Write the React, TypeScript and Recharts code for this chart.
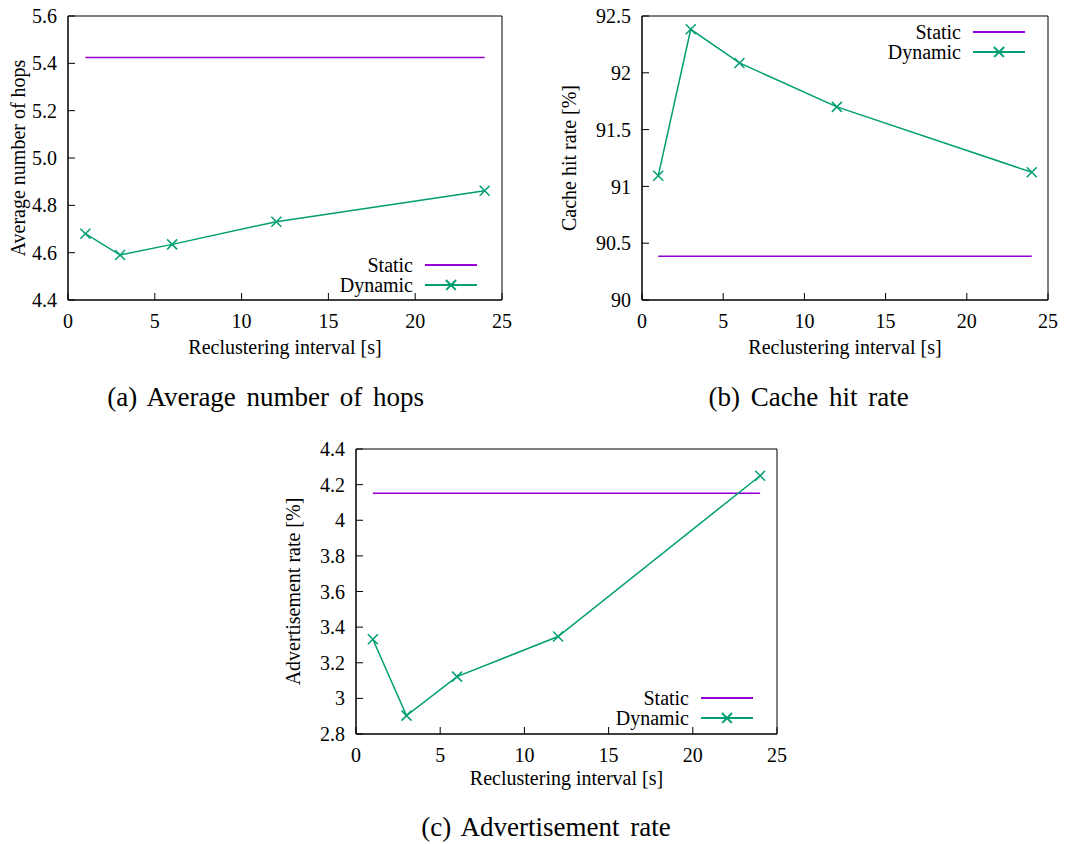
import React from 'react';
import { LineChart, Line, XAxis, YAxis, Legend, ReferenceArea } from 'recharts';

// reclustering intervals [s]
const intervals = [1, 3, 6, 12, 24];
const xTicks = [0, 5, 10, 15, 20, 25];

// (a) average number of hops
const hopsDynamic = [4.68, 4.59, 4.635, 4.731, 4.862];
const hopsStatic = 5.425;
const hopsTicks = [4.4, 4.6, 4.8, 5.0, 5.2, 5.4, 5.6];

// (b) cache hit rate [%]
const hitDynamic = [91.093, 92.383, 92.087, 91.7, 91.125];
const hitStatic = 90.385;
const hitTicks = [90, 90.5, 91, 91.5, 92, 92.5];

// (c) advertisement rate [%]
const advDynamic = [3.332, 2.903, 3.122, 3.347, 4.25];
const advStatic = 4.151;
const advTicks = [2.8, 3, 3.2, 3.4, 3.6, 3.8, 4, 4.2, 4.4];

const STATIC_COLOR = '#9400d3';
const DYNAMIC_COLOR = '#009e73';
const FONT = '"Liberation Serif", "Times New Roman", serif';

const buildRows = (dynamic: number[], staticValue: number) =>
  intervals.map((x, i) => ({ x, dynamic: dynamic[i], static: staticValue }));

const hopsRows = buildRows(hopsDynamic, hopsStatic);
const hitRows = buildRows(hitDynamic, hitStatic);
const advRows = buildRows(advDynamic, advStatic);

const oneDecimal = (v: number) => v.toFixed(1);

const Cross = (props: any) => {
  const { cx, cy, index } = props;
  if (cx == null || cy == null) return null;
  const s = 5;
  return (
    <path
      key={`cross-${index}`}
      d={`M${cx - s},${cy - s}L${cx + s},${cy + s}M${cx - s},${cy + s}L${cx + s},${cy - s}`}
      stroke={DYNAMIC_COLOR}
      strokeWidth={1.5}
      fill="none"
    />
  );
};

// gnuplot style key, plain html (no nested svg inside the chart wrapper)
const bar = (color: string, angle: number): React.CSSProperties => ({
  position: 'absolute',
  left: 19,
  top: 9,
  width: 14,
  height: 1.5,
  background: color,
  transform: `rotate(${angle}deg)`,
});

const KeyBox = () => (
  <div style={{ fontFamily: FONT, fontSize: 20, color: '#000' }}>
    {[
      { name: 'Static', color: STATIC_COLOR, mark: false },
      { name: 'Dynamic', color: DYNAMIC_COLOR, mark: true },
    ].map((row) => (
      <div key={row.name} style={{ display: 'flex', alignItems: 'center', height: 20 }}>
        <span style={{ width: 100, textAlign: 'right', lineHeight: '20px' }}>{row.name}</span>
        <div style={{ position: 'relative', width: 52, height: 20, marginLeft: 12 }}>
          <div style={{ position: 'absolute', left: 0, top: 9, width: 52, height: 1.5, background: row.color }} />
          {row.mark && <div style={bar(row.color, 45)} />}
          {row.mark && <div style={bar(row.color, -45)} />}
        </div>
      </div>
    ))}
  </div>
);
const renderKey = () => <KeyBox />;

interface PanelProps {
  rows: { x: number; dynamic: number; static: number }[];
  yMin: number;
  yMax: number;
  yTicks: number[];
  yFormat?: (v: number) => string;
  yLabel: string;
  yAxisWidth: number;
  yLabelOffset: number;
  marginTop: number;
  marginRight: number;
  xAxisHeight: number;
  xLabelOffset: number;
  keyLeft: number;
  keyTop: number;
}

const tickStyle = { fill: '#000', fontSize: 20, fontFamily: FONT };
const black = { stroke: '#000', strokeWidth: 1 };

const Panel: React.FC<PanelProps> = (p) => (
  <LineChart
    width={540}
    height={360}
    data={p.rows}
    margin={{ top: p.marginTop, right: p.marginRight, left: 0, bottom: 0 }}
  >
    <XAxis
      dataKey="x"
      type="number"
      domain={[0, 25]}
      ticks={xTicks}
      height={p.xAxisHeight}
      tickSize={-7}
      tickMargin={21}
      axisLine={black}
      tickLine={black}
      tick={tickStyle}
      label={{
        value: 'Reclustering interval [s]',
        position: 'insideBottom',
        offset: p.xLabelOffset,
        style: { fill: '#000', fontSize: 20, fontFamily: FONT },
      }}
    />
    <XAxis
      xAxisId="top"
      orientation="top"
      dataKey="x"
      type="number"
      domain={[0, 25]}
      ticks={xTicks}
      height={0}
      tickSize={-7}
      tick={false}
      axisLine={black}
      tickLine={black}
    />
    <YAxis
      type="number"
      domain={[p.yMin, p.yMax]}
      ticks={p.yTicks}
      width={p.yAxisWidth}
      tickSize={-7}
      tickMargin={18}
      tickFormatter={p.yFormat}
      axisLine={black}
      tickLine={black}
      tick={tickStyle}
      label={{
        value: p.yLabel,
        angle: -90,
        position: 'insideLeft',
        offset: p.yLabelOffset,
        style: { fill: '#000', fontSize: 20, fontFamily: FONT, textAnchor: 'middle' },
      }}
    />
    <YAxis
      yAxisId="right"
      orientation="right"
      type="number"
      domain={[p.yMin, p.yMax]}
      ticks={p.yTicks}
      width={0}
      tickSize={-7}
      tick={false}
      axisLine={black}
      tickLine={black}
    />
    <ReferenceArea x1={0} x2={25} y1={p.yMin} y2={p.yMax} fill="none" stroke="#000" />
    <Legend
      layout="horizontal"
      align="center"
      verticalAlign="middle"
      content={renderKey}
      wrapperStyle={{ left: p.keyLeft, top: p.keyTop, width: 170 }}
    />
    <Line
      dataKey="static"
      name="Static"
      stroke={STATIC_COLOR}
      strokeWidth={1.5}
      dot={false}
      isAnimationActive={false}
    />
    <Line
      dataKey="dynamic"
      name="Dynamic"
      stroke={DYNAMIC_COLOR}
      strokeWidth={1.5}
      dot={Cross}
      isAnimationActive={false}
    />
  </LineChart>
);

const captionStyle: React.CSSProperties = {
  textAlign: 'center',
  fontFamily: FONT,
  fontSize: 27,
  lineHeight: '30px',
  wordSpacing: 4,
  color: '#000',
  paddingTop: 22,
  boxSizing: 'border-box',
};

export default function App() {
  return (
    <div style={{ marginLeft: -8, marginTop: -8, width: 1086, background: '#fff', fontFamily: FONT }}>
      <div style={{ display: 'flex', height: 360 }}>
        <div style={{ width: 540 }}>
          <Panel
            rows={hopsRows}
            yMin={4.4}
            yMax={5.6}
            yTicks={hopsTicks}
            yFormat={oneDecimal}
            yLabel="Average number of hops"
            yAxisWidth={68}
            yLabelOffset={18}
            marginTop={16}
            marginRight={38}
            xAxisHeight={60}
            xLabelOffset={6}
            keyLeft={313}
            keyTop={255}
          />
        </div>
        <div style={{ width: 546 }}>
          <Panel
            rows={hitRows}
            yMin={90}
            yMax={92.5}
            yTicks={hitTicks}
            yLabel="Cache hit rate [%]"
            yAxisWidth={102}
            yLabelOffset={29}
            marginTop={16}
            marginRight={32}
            xAxisHeight={60}
            xLabelOffset={6}
            keyLeft={321}
            keyTop={22}
          />
        </div>
      </div>
      <div style={{ display: 'flex', height: 70 }}>
        <div style={{ ...captionStyle, width: 544 }}>(a) Average number of hops</div>
        <div style={{ ...captionStyle, width: 568 }}>(b) Cache hit rate</div>
      </div>
      <div style={{ height: 360, paddingLeft: 270 }}>
        <Panel
          rows={advRows}
          yMin={2.8}
          yMax={4.4}
          yTicks={advTicks}
          yLabel="Advertisement rate [%]"
          yAxisWidth={86}
          yLabelOffset={23}
          marginTop={19}
          marginRight={33}
          xAxisHeight={56}
          xLabelOffset={5}
          keyLeft={319}
          keyTop={258}
        />
      </div>
      <div style={{ ...captionStyle, width: 1092, height: 54 }}>(c) Advertisement rate</div>
    </div>
  );
}
